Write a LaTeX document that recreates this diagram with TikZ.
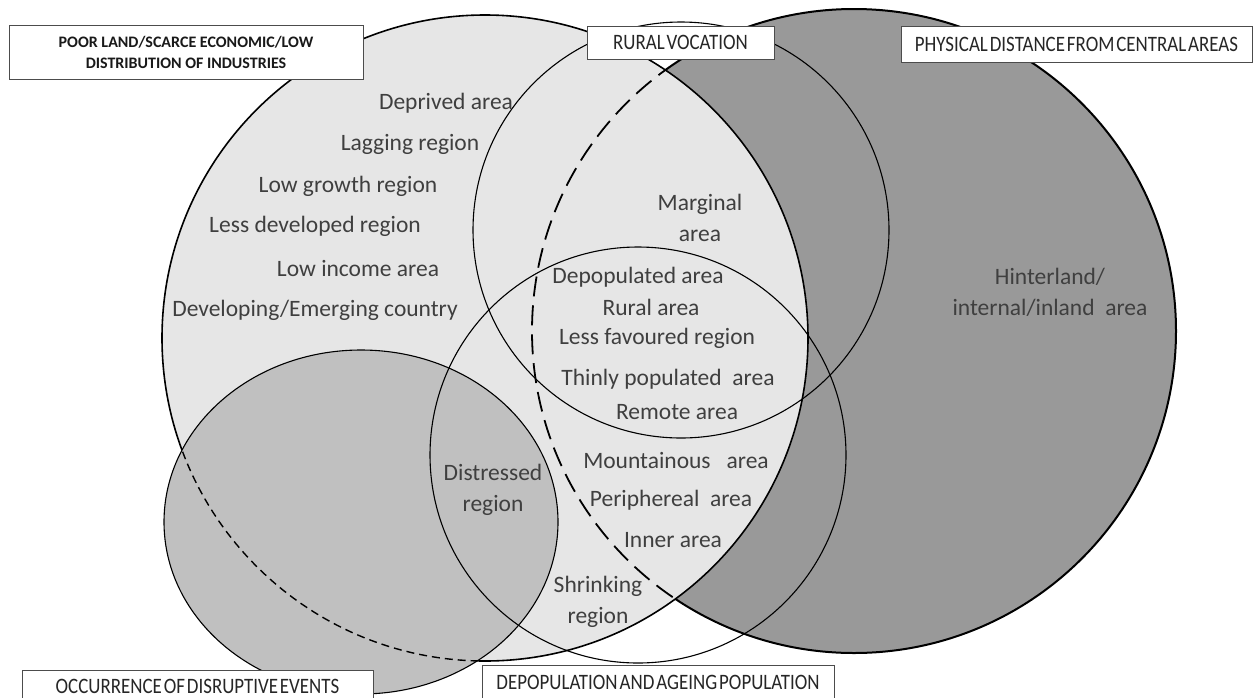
\documentclass[tikz,border=0pt]{standalone}
\usepackage{fontspec}
\setmainfont{Carlito}
\newfontfamily\capsfont[FakeStretch=0.86,WordSpace=0.45]{Carlito}
\definecolor{lightfill}{HTML}{E6E6E6}
\definecolor{midfill}{HTML}{C0C0C0}
\definecolor{darkfill}{HTML}{999999}
\definecolor{labeltext}{HTML}{3F3F3F}
\begin{document}
\begin{tikzpicture}[x=1pt,y=-1pt,
  region/.style={text=labeltext, font=\fontsize{23.5}{31}\selectfont, align=center, inner sep=0pt},
  tagbox/.style={draw=black!70, line width=0.9pt, fill=white, text=black!85,
    font=\capsfont\fontsize{22}{24}\selectfont, inner sep=0pt},
  boldbox/.style={draw=black!70, line width=0.9pt, fill=white, text=black!90,
    font=\bfseries\fontsize{16}{21}\selectfont, align=center, inner sep=0pt},
  ring/.style={line width=1.1pt},
]
\useasboundingbox (0,0) rectangle (1259,697);

% hinterland set (dark), lying under the economic set
\fill[darkfill] (854,331) circle[radius=322pt];
\draw[line width=2pt] (854,331) circle[radius=322pt];

% economic set (light)
\filldraw[fill=lightfill, line width=1.6pt] (485,338) circle[radius=323pt];

% disruptive events set (mid grey)
\filldraw[fill=midfill, line width=1.1pt] (361,522) ellipse[x radius=197pt, y radius=172pt];

% hidden border of the economic set inside the disruptive events set
\begin{scope}
  \clip (361,522) ellipse[x radius=197pt, y radius=172pt];
  \draw[line width=1.4pt, dash pattern=on 8pt off 5pt] (485,338) circle[radius=323pt];
\end{scope}

% hidden border of the hinterland set inside the economic set
\begin{scope}
  \clip (485,338) circle[radius=323pt];
  \draw[line width=1.8pt, dash pattern=on 20pt off 9pt] (854,331) circle[radius=322pt];
\end{scope}

% rural vocation and depopulation sets
\draw[ring] (681,230) circle[radius=208pt];
\draw[ring] (638,455) circle[radius=208pt];

% terms
\node[region] (deprived)   at (446,103) {Deprived area};
\node[region] (lagging)    at (410,144) {Lagging region};
\node[region] (lowgrowth)  at (348,186) {Low growth region};
\node[region] (lessdev)    at (315,226) {Less developed region};
\node[region] (lowincome)  at (358,268) {Low income area};
\node[region] (developing) at (315,310) {Developing/Emerging country};

\node[region] (marginal)   at (700,218) {Marginal\\area};
\node[region] (depop)      at (638,277) {Depopulated area};
\node[region] (rural)      at (651,307) {Rural area};
\node[region] (lessfav)    at (657,338) {Less favoured region};
\node[region] (thinly)     at (668,379) {Thinly populated~ area};
\node[region] (remote)     at (677,412) {Remote area};
\node[region] (mountain)   at (676,460) {Mountainous~~ area};
\node[region] (periph)     at (671,500) {Periphereal~ area};
\node[region] (inner)      at (673,540) {Inner area};
\node[region] (shrinking)  at (598,602) {Shrinking\\region};
\node[region] (distressed) at (493,490) {Distressed\\region};
\node[region] (hinterland) at (1050,292) {Hinterland/\\internal/inland~ area};

% set headings
\node[boldbox, minimum width=354pt, minimum height=54pt] (poorland) at (186,52)
  {POOR LAND/SCARCE ECONOMIC/LOW\\DISTRIBUTION OF INDUSTRIES};
\node[tagbox, minimum width=187pt, minimum height=33pt] (ruralvoc) at (680.5,42.5)
  {RURAL VOCATION};
\node[tagbox, minimum width=351pt, minimum height=36pt] (distance) at (1076.5,44)
  {PHYSICAL DISTANCE FROM CENTRAL AREAS};
\node[tagbox, minimum width=351pt, minimum height=40pt, text height=14pt, text depth=8pt]
  (disruptive) at (197.5,690) {OCCURRENCE OF DISRUPTIVE EVENTS};
\node[tagbox, minimum width=352pt, minimum height=44pt, text height=14pt, text depth=10pt]
  (ageing) at (658,687) {DEPOPULATION AND AGEING POPULATION};
\end{tikzpicture}
\end{document}
